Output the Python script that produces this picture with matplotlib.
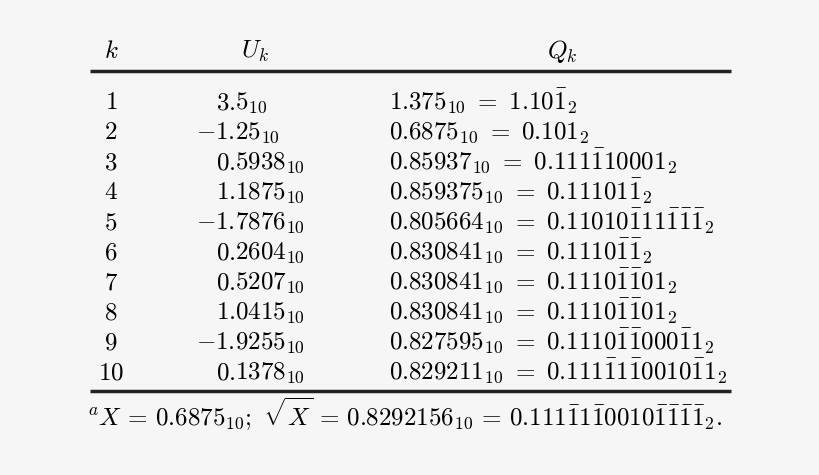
import matplotlib.pyplot as plt

plt.rcParams['mathtext.fontset'] = 'cm'

k_vals = [1, 2, 3, 4, 5, 6, 7, 8, 9, 10]
u_vals = ['3.5', '-1.25', '0.5938', '1.1875', '-1.7876', '0.2604',
          '0.5207', '1.0415', '-1.9255', '0.1378']
q_dec = ['1.375', '0.6875', '0.85937', '0.859375', '0.805664', '0.830841',
         '0.830841', '0.830841', '0.827595', '0.829211']
# 'n' marks a digit 1 with an overbar (minus one)
q_bin = ['1.10n', '0.101', '0.111n10001', '0.11101n', '0.11010n11nnn',
         '0.1110nn', '0.1110nn01', '0.1110nn01', '0.1110nn000n1', '0.111n1n0010n1']
foot_bin = '0.111n1n0010nnnn'

BG = '#f6f6f6'
FS = 18

def binstr(s):
    return ''.join(r'\bar{1}' if c == 'n' else c for c in s)

fig = plt.figure(figsize=(8.2, 4.75), dpi=100, facecolor=BG)
ax = fig.add_axes([0, 0, 1, 1])
ax.set_xlim(0, 820)
ax.set_ylim(475, 0)
ax.axis('off')
ax.set_facecolor(BG)

# headers
ax.text(111, 58, r'$k$', fontsize=FS, ha='center', va='baseline')
ax.text(255, 58, r'$U_k$', fontsize=FS, ha='center', va='baseline')
ax.text(562, 58, r'$Q_k$', fontsize=FS, ha='center', va='baseline')

ax.plot([90, 731], [71, 71], color='#222222', lw=2.5, solid_capstyle='butt')
ax.plot([90, 731], [391, 391], color='#222222', lw=2.5, solid_capstyle='butt')

for i, k in enumerate(k_vals):
    y = 109 + i * 30
    ax.text(111, y, r'$\mathrm{%d}$' % k, fontsize=FS, ha='center', va='baseline')
    ip, fp = u_vals[i].split('.')
    ax.text(235, y, r'$%s.$' % ip, fontsize=FS, ha='right', va='baseline')
    ax.text(235, y, r'$%s_{10}$' % fp, fontsize=FS, ha='left', va='baseline')
    ax.text(389, y, r'$%s_{10}\ =\ %s_{2}$' % (q_dec[i], binstr(q_bin[i])),
            fontsize=FS, ha='left', va='baseline')

ax.text(87, 426, r'$^{a}X\,=\,0.6875_{10};\ \sqrt{X}\,=\,0.8292156_{10}\,=\,%s_{2}.$'
        % binstr(foot_bin), fontsize=FS, ha='left', va='baseline')

fig.savefig('out.png', dpi=100, facecolor=BG)
